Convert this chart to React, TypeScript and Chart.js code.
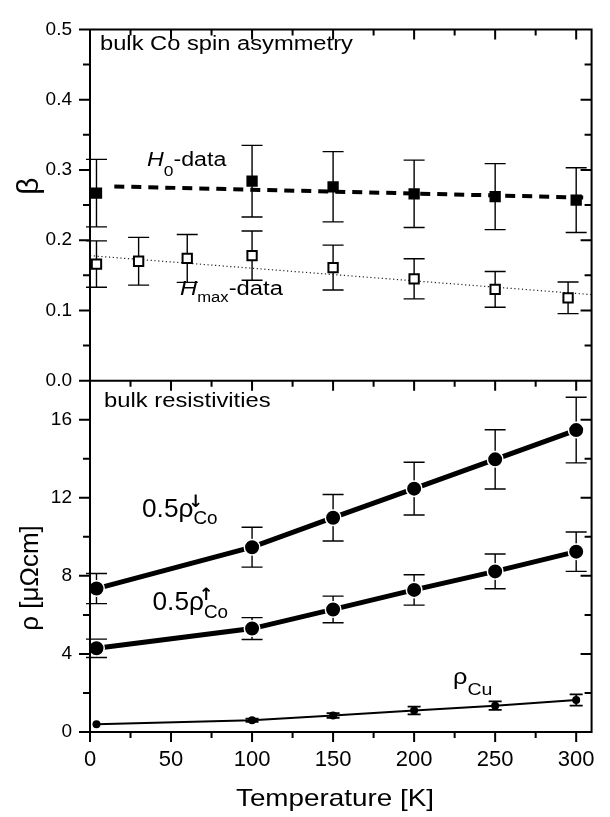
import React, { useEffect, useRef } from 'react';
import { Chart, registerables } from 'chart.js';

Chart.register(...registerables);

// ---------- data ----------
const tH0 = [4, 100, 150, 200, 250, 300];
const betaH0 = [0.267, 0.284, 0.276, 0.266, 0.262, 0.257];
const betaH0Err = [0.048, 0.051, 0.05, 0.048, 0.047, 0.046];

const tHmax = [4, 30, 60, 100, 150, 200, 250, 295];
const betaHmax = [0.166, 0.17, 0.174, 0.178, 0.161, 0.145, 0.13, 0.118];
const betaHmaxErr = [0.033, 0.034, 0.034, 0.035, 0.032, 0.0285, 0.0255, 0.0225];

const fitH0T = [15, 308];
const fitH0 = [0.2765, 0.2605];
const fitHmaxT = [0, 309.5];
const fitHmax = [0.178, 0.1225];

const tRho = [4, 100, 150, 200, 250, 300];
const rhoDown = [7.35, 9.47, 10.98, 12.47, 13.97, 15.47];
const rhoDownErr = [0.77, 1.02, 1.19, 1.35, 1.52, 1.68];
const rhoUp = [4.29, 5.3, 6.28, 7.28, 8.23, 9.24];
const rhoUpErr = [0.47, 0.56, 0.68, 0.78, 0.89, 1.01];
const rhoCu = [0.4, 0.6, 0.85, 1.1, 1.35, 1.64];
const rhoCuErr = [0, 0.08, 0.12, 0.2, 0.22, 0.29];

const xTickValues = [0, 25, 50, 75, 100, 125, 150, 175, 200, 225, 250, 275, 300];
const betaTickValues = [0, 0.05, 0.1, 0.15, 0.2, 0.25, 0.3, 0.35, 0.4, 0.45, 0.5];
const rhoTickValues = [0, 2, 4, 6, 8, 10, 12, 14, 16, 18];

const FONT = '"Liberation Sans", Arial, Helvetica, sans-serif';
const ARROW_FONT = '"DejaVu Sans", sans-serif';

const pts = (xs: number[], ys: number[]) => xs.map((x, i) => ({ x, y: ys[i] }));

type Seg = {
  t: string;
  size: number;
  italic?: boolean;
  dy?: number;
  dx?: number;
  noAdvance?: boolean;
  family?: string;
  weight?: string;
};

function drawRich(ctx: CanvasRenderingContext2D, x: number, y: number, segs: Seg[], sx = 1) {
  ctx.save();
  ctx.translate(x, y);
  ctx.scale(sx, 1);
  ctx.fillStyle = '#000';
  ctx.textAlign = 'left';
  ctx.textBaseline = 'alphabetic';
  let cx = 0;
  for (const s of segs) {
    ctx.font = `${s.italic ? 'italic ' : ''}${s.weight ? s.weight + ' ' : ''}${s.size}px ${s.family || FONT}`;
    ctx.fillText(s.t, cx + (s.dx || 0), s.dy || 0);
    if (!s.noAdvance) cx += ctx.measureText(s.t).width + (s.dx || 0);
  }
  ctx.restore();
}

function drawErr(
  ctx: CanvasRenderingContext2D,
  xs: number[],
  ys: number[],
  errs: number[],
  xs_: any,
  ys_: any,
  cap: number,
  lw: number
) {
  ctx.save();
  ctx.strokeStyle = '#000';
  ctx.lineWidth = lw;
  ctx.beginPath();
  for (let i = 0; i < xs.length; i++) {
    if (!errs[i]) continue;
    const px = xs_.getPixelForValue(xs[i]);
    const top = ys_.getPixelForValue(ys[i] + errs[i]);
    const bot = ys_.getPixelForValue(ys[i] - errs[i]);
    ctx.moveTo(px, top);
    ctx.lineTo(px, bot);
    ctx.moveTo(px - cap, top);
    ctx.lineTo(px + cap, top);
    ctx.moveTo(px - cap, bot);
    ctx.lineTo(px + cap, bot);
  }
  ctx.stroke();
  ctx.restore();
}

const framePlugin = {
  id: 'framePlugin',
  beforeDatasetsDraw(chart: any) {
    const ctx = chart.ctx as CanvasRenderingContext2D;
    const x = chart.scales.x;
    const yT = chart.scales.yTop;
    const yB = chart.scales.yBot;
    drawErr(ctx, tH0, betaH0, betaH0Err, x, yT, 10.5, 1.4);
    drawErr(ctx, tHmax, betaHmax, betaHmaxErr, x, yT, 10.5, 1.4);
    drawErr(ctx, tRho, rhoDown, rhoDownErr, x, yB, 10.5, 1.4);
    drawErr(ctx, tRho, rhoUp, rhoUpErr, x, yB, 10.5, 1.4);
    drawErr(ctx, tRho, rhoCu, rhoCuErr, x, yB, 6.5, 1.8);
  },
  afterDraw(chart: any) {
    const ctx = chart.ctx as CanvasRenderingContext2D;
    const x = chart.scales.x;
    const yT = chart.scales.yTop;
    const yB = chart.scales.yBot;
    const L = chart.chartArea.left;
    const R = chart.chartArea.right;
    const top = yT.top;
    const mid = yT.bottom;
    const bottom = yB.bottom;

    ctx.save();
    ctx.strokeStyle = '#000';
    ctx.lineWidth = 2;
    ctx.lineCap = 'butt';
    ctx.beginPath();
    ctx.rect(L, top, R - L, bottom - top);
    ctx.moveTo(L, mid);
    ctx.lineTo(R, mid);
    betaTickValues.forEach((v, i) => {
      const len = i % 2 === 0 ? 11 : 7;
      const py = yT.getPixelForValue(v);
      ctx.moveTo(L - len, py);
      ctx.lineTo(L, py);
      ctx.moveTo(R - len, py);
      ctx.lineTo(R, py);
    });
    rhoTickValues.forEach((v, i) => {
      const len = i % 2 === 0 ? 11 : 7;
      const py = yB.getPixelForValue(v);
      ctx.moveTo(L - len, py);
      ctx.lineTo(L, py);
      ctx.moveTo(R - len, py);
      ctx.lineTo(R, py);
    });
    xTickValues.forEach((v, i) => {
      const len = i % 2 === 0 ? 10 : 6;
      const px = x.getPixelForValue(v);
      ctx.moveTo(px, top);
      ctx.lineTo(px, top + len);
      ctx.moveTo(px, mid);
      ctx.lineTo(px, mid + len);
      ctx.moveTo(px, bottom);
      ctx.lineTo(px, bottom + len);
    });
    ctx.stroke();
    ctx.restore();

    // annotations
    drawRich(ctx, 100, 50, [{ t: 'bulk Co spin asymmetry', size: 20 }], 1.185);
    drawRich(ctx, 104, 407, [{ t: 'bulk resistivities', size: 20 }], 1.19);
    drawRich(
      ctx,
      147,
      165.5,
      [
        { t: 'H', size: 20, italic: true },
        { t: '0', size: 15, dy: 10 },
        { t: '-data', size: 20 },
      ],
      1.16
    );
    drawRich(
      ctx,
      180,
      295,
      [
        { t: 'H', size: 20, italic: true },
        { t: 'max', size: 14, dy: 6.5 },
        { t: '-data', size: 20 },
      ],
      1.19
    );
    drawRich(
      ctx,
      142,
      517,
      [
        { t: '0.5ρ', size: 25 },
        { t: '↓', size: 17, dy: -10, dx: -5, noAdvance: true, family: ARROW_FONT, weight: 'bold' },
        { t: 'Co', size: 18, dy: 7 },
      ],
      1.05
    );
    drawRich(
      ctx,
      152.5,
      610,
      [
        { t: '0.5ρ', size: 25 },
        { t: '↑', size: 17, dy: -10, dx: -5, noAdvance: true, family: ARROW_FONT, weight: 'bold' },
        { t: 'Co', size: 18, dy: 8 },
      ],
      1.05
    );
    drawRich(
      ctx,
      453,
      684,
      [
        { t: 'ρ', size: 22 },
        { t: 'Cu', size: 17, dy: 11 },
      ],
      1.15
    );

    // axis titles
    ctx.save();
    ctx.fillStyle = '#000';
    ctx.textAlign = 'center';
    ctx.textBaseline = 'alphabetic';
    ctx.translate(38, 186);
    ctx.rotate(-Math.PI / 2);
    ctx.font = `30px ${FONT}`;
    ctx.fillText('β', 0, 0);
    ctx.restore();

    ctx.save();
    ctx.fillStyle = '#000';
    ctx.textAlign = 'center';
    ctx.textBaseline = 'alphabetic';
    ctx.translate(37.5, 578);
    ctx.rotate(-Math.PI / 2);
    ctx.font = `26px ${FONT}`;
    ctx.fillText('ρ [μΩcm]', 0, 0);
    ctx.restore();

    ctx.save();
    ctx.fillStyle = '#000';
    ctx.textAlign = 'center';
    ctx.textBaseline = 'alphabetic';
    ctx.translate(335, 806);
    ctx.scale(1.16, 1);
    ctx.font = `24px ${FONT}`;
    ctx.fillText('Temperature [K]', 0, 0);
    ctx.restore();
  },
};

export default function App() {
  const ref = useRef<HTMLCanvasElement | null>(null);

  useEffect(() => {
    if (!ref.current) return;
    const black = '#000';
    const chart = new Chart(ref.current, {
      type: 'scatter',
      data: {
        datasets: [
          {
            label: 'H0-data',
            data: pts(tH0, betaH0),
            yAxisID: 'yTop',
            showLine: false,
            pointStyle: 'rect',
            pointRadius: 8,
            pointBackgroundColor: black,
            pointBorderColor: black,
            pointBorderWidth: 0,
          },
          {
            label: 'Hmax-data',
            data: pts(tHmax, betaHmax),
            yAxisID: 'yTop',
            showLine: false,
            pointStyle: 'rect',
            pointRadius: 6.6,
            pointBackgroundColor: '#fff',
            pointBorderColor: black,
            pointBorderWidth: 2,
          },
          {
            label: '0.5 rho Co down',
            data: pts(tRho, rhoDown),
            yAxisID: 'yBot',
            showLine: true,
            borderColor: black,
            borderWidth: 5,
            pointRadius: 7.75,
            pointBackgroundColor: black,
            pointBorderColor: '#fff',
            pointBorderWidth: 1.5,
          },
          {
            label: '0.5 rho Co up',
            data: pts(tRho, rhoUp),
            yAxisID: 'yBot',
            showLine: true,
            borderColor: black,
            borderWidth: 5,
            pointRadius: 7.75,
            pointBackgroundColor: black,
            pointBorderColor: '#fff',
            pointBorderWidth: 1.5,
          },
          {
            label: 'rho Cu',
            data: pts(tRho, rhoCu),
            yAxisID: 'yBot',
            showLine: true,
            borderColor: black,
            borderWidth: 2,
            pointRadius: 4,
            pointBackgroundColor: black,
            pointBorderColor: black,
            pointBorderWidth: 0,
          },
          {
            label: 'H0 fit',
            data: pts(fitH0T, fitH0),
            yAxisID: 'yTop',
            showLine: true,
            borderColor: black,
            borderWidth: 4,
            borderDash: [10, 7],
            pointRadius: 0,
          },
          {
            label: 'Hmax fit',
            data: pts(fitHmaxT, fitHmax),
            yAxisID: 'yTop',
            showLine: true,
            borderColor: '#222',
            borderWidth: 1.2,
            borderDash: [1.2, 2.6],
            pointRadius: 0,
          },
        ],
      },
      options: {
        animation: false,
        responsive: false,
        maintainAspectRatio: false,
        layout: { padding: { top: 13, right: 15, left: 0, bottom: 0 } },
        plugins: { legend: { display: false }, tooltip: { enabled: false } },
        scales: {
          x: {
            type: 'linear',
            position: 'bottom',
            min: 0,
            max: 309.5,
            grid: { display: false, drawTicks: false },
            border: { display: false },
            ticks: {
              stepSize: 50,
              includeBounds: false,
              autoSkip: false,
              maxRotation: 0,
              padding: 15,
              color: black,
              font: { family: FONT, size: 22 },
            },
            afterFit: (s: any) => {
              s.height = 85;
            },
          },
          yBot: {
            type: 'linear',
            position: 'left',
            stack: 'panels',
            stackWeight: 1,
            min: 0,
            max: 18,
            grid: { display: false, drawTicks: false },
            border: { display: false },
            ticks: {
              stepSize: 4,
              includeBounds: false,
              autoSkip: false,
              padding: 18,
              color: black,
              font: { family: FONT, size: 19 },
            },
            afterFit: (s: any) => {
              s.width = 90;
            },
          },
          yTop: {
            type: 'linear',
            position: 'left',
            stack: 'panels',
            stackWeight: 1,
            min: 0,
            max: 0.5,
            grid: { display: false, drawTicks: false },
            border: { display: false },
            ticks: {
              stepSize: 0.1,
              includeBounds: false,
              autoSkip: false,
              padding: 18,
              color: black,
              font: { family: FONT, size: 19 },
              callback: (v: any) => Number(v).toFixed(1),
            },
            afterFit: (s: any) => {
              s.width = 90;
            },
          },
        },
      },
      plugins: [framePlugin],
    } as any);
    return () => chart.destroy();
  }, []);

  return (
    <div style={{ position: 'absolute', left: 0, top: 0, width: 610, height: 817, background: '#fff' }}>
      <canvas ref={ref} width={610} height={817} style={{ display: 'block', width: 610, height: 817 }} />
    </div>
  );
}
